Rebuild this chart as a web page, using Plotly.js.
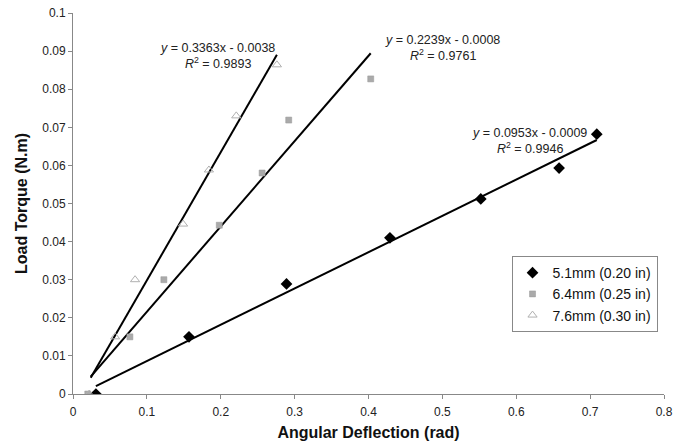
<!DOCTYPE html>
<html>
<head>
<meta charset="utf-8">
<script src="https://cdn.plot.ly/plotly-3.0.1.min.js"></script>
<style>html,body{margin:0;padding:0;background:#fff;}#chart{width:690px;height:446px;}</style>
</head>
<body>
<div id="chart"></div>
<script>
// Data
const seriesNames = ["5.1mm (0.20 in)", "6.4mm (0.25 in)", "7.6mm (0.30 in)"];
const x51 = [0.031, 0.157, 0.289, 0.429, 0.552, 0.658, 0.709];
const y51 = [0.0, 0.015, 0.0289, 0.041, 0.0512, 0.0593, 0.0682];
const x64 = [0.020, 0.077, 0.123, 0.198, 0.256, 0.292, 0.403];
const y64 = [0.0, 0.015, 0.030, 0.0443, 0.058, 0.0719, 0.0827];
const x76 = [0.022, 0.057, 0.084, 0.149, 0.184, 0.221, 0.276];
const y76 = [0.0, 0.015, 0.030, 0.0446, 0.0588, 0.073, 0.0864];
// Trendline coefficients as displayed in the chart
const slopes = [0.0953, 0.2239, 0.3363];
const intercepts = [-0.0009, -0.0008, -0.0038];
const r2 = [0.9946, 0.9761, 0.9893];
const trendStart = [0.031, 0.024, 0.024];
const trendEnd = [0.709, 0.403, 0.276];
const xTicks = [0, 0.1, 0.2, 0.3, 0.4, 0.5, 0.6, 0.7, 0.8];
const yTicks = [0, 0.01, 0.02, 0.03, 0.04, 0.05, 0.06, 0.07, 0.08, 0.09, 0.1];

function trend(i) {
  const xs = [trendStart[i], trendEnd[i]];
  return {x: xs, y: xs.map(v => slopes[i] * v + intercepts[i]),
    mode: 'lines', line: {color: '#000', width: 2}, showlegend: false, hoverinfo: 'skip'};
}
function fmt(v) { return Math.abs(v).toFixed(4); }
function eqText(i) {
  return '<i>y</i> = ' + slopes[i].toFixed(4) + 'x - ' + fmt(intercepts[i]) +
         '<br><i>R</i><sup>2</sup> = ' + r2[i].toFixed(4);
}

const traces = [
  trend(0), trend(1), trend(2),
  {x: x51, y: y51, name: seriesNames[0], mode: 'markers',
   marker: {symbol: 'diamond', size: 9, color: '#000'}},
  {x: x64, y: y64, name: seriesNames[1], mode: 'markers',
   marker: {symbol: 'square', size: 6, color: '#aaa', line: {color: '#999', width: 0.5}}},
  {x: x76, y: y76, name: seriesNames[2], mode: 'markers',
   marker: {symbol: 'triangle-up-open', size: 8, color: '#b0b0b0', line: {width: 1}}}
];

// label block centres (x, y) in data units
const eqPos = [[0.618, 0.0665], [0.5007, 0.0908], [0.196, 0.0887]];
const annotations = [0, 1, 2].map(i => ({
  x: eqPos[i][0], y: eqPos[i][1], xref: 'x', yref: 'y', text: eqText(i),
  showarrow: false, align: 'center', xanchor: 'center', yanchor: 'middle',
  font: {family: 'Liberation Sans, Arial, sans-serif', size: 12.5, color: '#222'}
}));

const layout = {
  width: 690, height: 446,
  margin: {l: 73, r: 26, t: 13, b: 52},
  paper_bgcolor: '#fff', plot_bgcolor: '#fff',
  font: {family: 'Liberation Sans, Arial, sans-serif', size: 12, color: '#222'},
  xaxis: {range: [0, 0.8], tickvals: xTicks, ticktext: xTicks.map(String),
    showgrid: false, zeroline: false, showline: true, linecolor: '#888', linewidth: 1,
    ticks: 'outside', ticklen: 4, tickcolor: '#888', ticklabelstandoff: 3,
    tickfont: {size: 12, color: '#222'},
    title: {text: '<b>Angular Deflection (rad)</b>', font: {size: 16, color: '#111'}, standoff: 8}},
  yaxis: {range: [0, 0.1], tickvals: yTicks, ticktext: yTicks.map(String),
    showgrid: false, zeroline: false, showline: true, linecolor: '#888', linewidth: 1,
    ticks: 'outside', ticklen: 4, tickcolor: '#888',
    tickfont: {size: 12, color: '#222'},
    title: {text: '<b>Load Torque (N.m)</b>', font: {size: 16, color: '#111'}, standoff: 10}},
  legend: {x: 0.742, y: 0.362, xanchor: 'left', yanchor: 'top',
    bordercolor: '#888', borderwidth: 1, bgcolor: '#fff',
    font: {size: 14, color: '#111'}, tracegroupgap: 0, itemwidth: 30},
  annotations: annotations,
  showlegend: true
};

Plotly.newPlot('chart', traces, layout, {displayModeBar: false, staticPlot: true});
</script>
</body>
</html>
